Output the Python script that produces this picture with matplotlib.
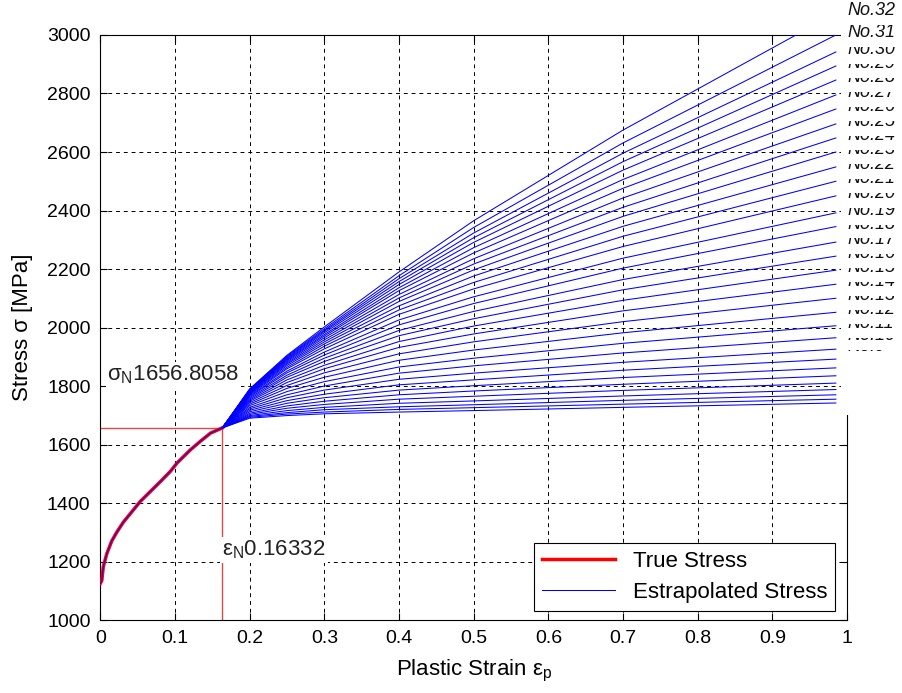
import matplotlib
matplotlib.use('Agg')
import matplotlib.pyplot as plt
from matplotlib.lines import Line2D

plt.rcParams['font.family'] = ['Liberation Sans', 'DejaVu Sans']
plt.rcParams['mathtext.fontset'] = 'custom'
plt.rcParams['mathtext.rm'] = 'Liberation Sans'
plt.rcParams['mathtext.it'] = 'Liberation Sans:italic'

# measured true stress-strain curve up to necking
eps_N = 0.16332
sig_N = 1656.8058
true_strain = [0.0, 0.002, 0.004, 0.0086, 0.0153, 0.022, 0.031, 0.040, 0.0534,
               0.0669, 0.0804, 0.0938, 0.1028, 0.1207, 0.134, 0.1476, eps_N]
true_stress = [1125, 1135, 1182, 1226, 1270, 1300, 1335, 1363, 1405,
               1439, 1473, 1508, 1537, 1582, 1611, 1639, sig_N]

# extrapolated curves No.1 ... No.32, stress read at these strains
strain_stations = [eps_N, 0.2, 0.25, 0.3, 0.4, 0.5, 0.7, 0.985]
stress_020 = [1690, 1693, 1696, 1699, 1703, 1707, 1712, 1717, 1722, 1727, 1733, 1738,
              1743, 1748, 1752, 1756, 1760, 1764, 1767, 1770, 1773, 1775, 1777, 1779,
              1781, 1782, 1784, 1785, 1786, 1787, 1789, 1790]
stress_025 = [1699, 1704, 1709, 1716, 1724, 1732, 1741, 1750, 1760, 1770, 1781, 1792,
              1802, 1812, 1821, 1830, 1837, 1845, 1851, 1859, 1864, 1870, 1875, 1879,
              1883, 1887, 1890, 1893, 1896, 1899, 1902, 1905]
stress_030 = [1705, 1711, 1719, 1727, 1737, 1748, 1760, 1772, 1786, 1800, 1815, 1830,
              1845, 1859, 1871, 1884, 1895, 1906, 1916, 1927, 1936, 1944, 1951, 1958,
              1965, 1971, 1976, 1982, 1987, 1991, 1996, 2002]
stress_040 = [1711, 1720, 1729, 1741, 1755, 1770, 1786, 1804, 1823, 1844, 1865, 1888,
              1910, 1932, 1952, 1972, 1990, 2009, 2026, 2045, 2060, 2074, 2089, 2101,
              2113, 2126, 2136, 2147, 2157, 2167, 2177, 2190]
stress_050 = [1716, 1726, 1736, 1749, 1765, 1783, 1801, 1821, 1844, 1869, 1895, 1923,
              1951, 1978, 2005, 2030, 2055, 2082, 2105, 2132, 2154, 2176, 2197, 2217,
              2235, 2255, 2273, 2291, 2307, 2323, 2342, 2365]
stress_070 = [1727, 1738, 1751, 1766, 1785, 1806, 1829, 1854, 1881, 1913, 1946, 1982,
              2020, 2057, 2093, 2129, 2164, 2203, 2237, 2277, 2312, 2346, 2380, 2411,
              2443, 2476, 2506, 2538, 2567, 2596, 2631, 2675]
stress_end = [1742, 1755, 1770, 1788, 1810, 1835, 1862, 1892, 1926, 1965, 2006, 2052,
              2100, 2148, 2196, 2244, 2292, 2345, 2392, 2450, 2500, 2549, 2600, 2648,
              2696, 2747, 2795, 2846, 2894, 2942, 3000, 3075]
curve_names = [f'No.{i}' for i in range(1, 33)]

x_ticks = [0, 0.1, 0.2, 0.3, 0.4, 0.5, 0.6, 0.7, 0.8, 0.9, 1]
x_tick_labels = ['0', '0.1', '0.2', '0.3', '0.4', '0.5', '0.6', '0.7', '0.8', '0.9', '1']
y_ticks = list(range(1000, 3001, 200))

fig = plt.figure(figsize=(9.02, 6.93), dpi=100)
ax = fig.add_axes([0.1112, 0.1053, 0.8279, 0.8442])

# necking point markers
ax.plot([0, eps_N], [sig_N, sig_N], color='#e04848', lw=1, zorder=2.5)
ax.plot([eps_N, eps_N], [1000, sig_N], color='#e04848', lw=1, zorder=2.5)

ax.plot(true_strain, true_stress, color='red', lw=2.5, zorder=3)
ax.plot(true_strain, true_stress, color='blue', lw=0.7, zorder=3.1)

columns = [stress_020, stress_025, stress_030, stress_040, stress_050, stress_070, stress_end]
for i, name in enumerate(curve_names):
    ys = [sig_N] + [col[i] for col in columns]
    ax.plot(strain_stations, ys, color='blue', lw=0.75, zorder=3)
    ax.text(1.0, stress_end[i] + 8, name, fontsize=13, style='italic',
            va='center', ha='left', color='#111111', zorder=5,
            bbox=dict(fc='white', ec='none', pad=4))

ax.text(0.0095, 1838, r'σ$_\mathrm{N}$1656.8058', fontsize=16, color='#222222',
        va='center', ha='left', zorder=4, bbox=dict(fc='white', ec='none', pad=1))
ax.text(eps_N, 1239, r'ε$_\mathrm{N}$0.16332', fontsize=16, color='#222222',
        va='center', ha='left', zorder=4, bbox=dict(fc='white', ec='none', pad=1.5))

ax.set_xlim(0, 1)
ax.set_ylim(1000, 3000)
ax.set_xticks(x_ticks)
ax.set_xticklabels(x_tick_labels)
ax.set_yticks(y_ticks)
ax.grid(True, color='black', linestyle=(0, (4, 4)), lw=0.7)
ax.tick_params(direction='in', top=True, right=True, length=5, labelsize=14, pad=7)
for s in ax.spines.values():
    s.set_linewidth(0.8)

ax.set_xlabel(r'Plastic Strain ε$_\mathrm{p}$', fontsize=16, labelpad=8)
ax.set_ylabel('Stress σ [MPa]', fontsize=16, labelpad=10)

handles = [Line2D([], [], color='red', lw=2.5), Line2D([], [], color='blue', lw=0.75)]
leg = ax.legend(handles, ['True Stress', 'Estrapolated Stress'], loc='lower right',
                bbox_to_anchor=(0.984, 0.0154), borderaxespad=0, fontsize=16,
                fancybox=False, edgecolor='black', framealpha=1, handlelength=3.3,
                labelspacing=0.45, borderpad=0.35)
leg.get_frame().set_linewidth(0.8)
leg.set_zorder(6)

fig.savefig('out.png', dpi=100)
